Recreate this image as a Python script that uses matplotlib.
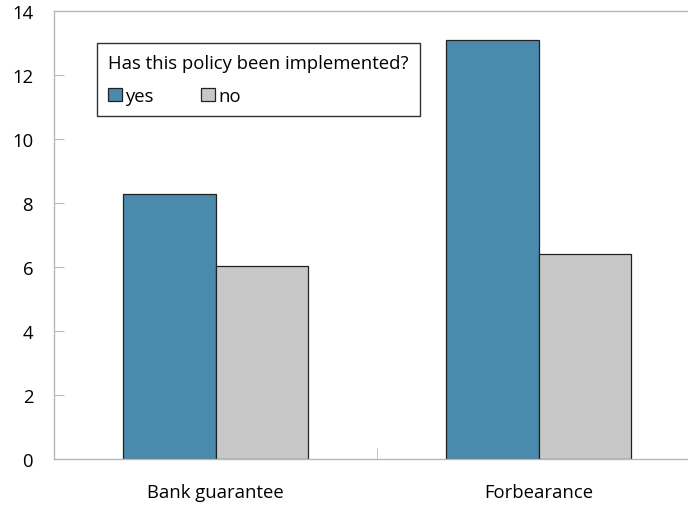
import matplotlib.pyplot as plt
import numpy as np

categories = ['Bank guarantee', 'Forbearance']
yes_vals = [8.27, 13.08]
no_vals = [6.04, 6.42]
series_labels = ['yes', 'no']
legend_title = 'Has this policy been implemented?'

plt.rcParams['font.family'] = ['Open Sans', 'DejaVu Sans']

fig = plt.figure(figsize=(6.88, 5.06), dpi=100)
# right part of the frame runs past the image edge, as in the original
ax = fig.add_axes([54 / 688, 1 - 460 / 506, 646 / 688, 448 / 506])

x = np.arange(len(categories))
w = 0.285
ax.bar(x - w / 2, yes_vals, w, color='#4A8BAD', edgecolor='#222222', linewidth=0.9, label=series_labels[0])
ax.bar(x + w / 2, no_vals, w, color='#C8C8C8', edgecolor='#222222', linewidth=0.9, label=series_labels[1])

ax.set_xlim(-0.5, 1.5)
ax.set_ylim(0, 14)
ax.set_yticks(range(0, 15, 2))
ax.set_xticks(x)
ax.set_xticklabels(categories)
ax.set_xticks([0.5], minor=True)

for s in ax.spines.values():
    s.set_color('#B8B8B8')
    s.set_linewidth(1)

ax.tick_params(axis='y', direction='in', length=7, color='#B8B8B8', labelsize=13.3, pad=15)
ax.tick_params(axis='x', which='major', length=0, labelsize=13.3, pad=17)
ax.tick_params(axis='x', which='minor', direction='in', length=8, color='#B8B8B8')

leg = ax.legend(title=legend_title, ncol=2, loc='upper left', bbox_to_anchor=(0.0666, 0.9286),
                frameon=True, fancybox=False, fontsize=13.3, title_fontsize=13.3,
                handlelength=0.75, handleheight=0.75, handletextpad=0.15, columnspacing=2.6,
                borderpad=0.6, labelspacing=0.8, edgecolor='black', borderaxespad=0)
leg._legend_box.align = 'left'
leg.get_frame().set_linewidth(1)

fig.savefig('out.png', dpi=100)
